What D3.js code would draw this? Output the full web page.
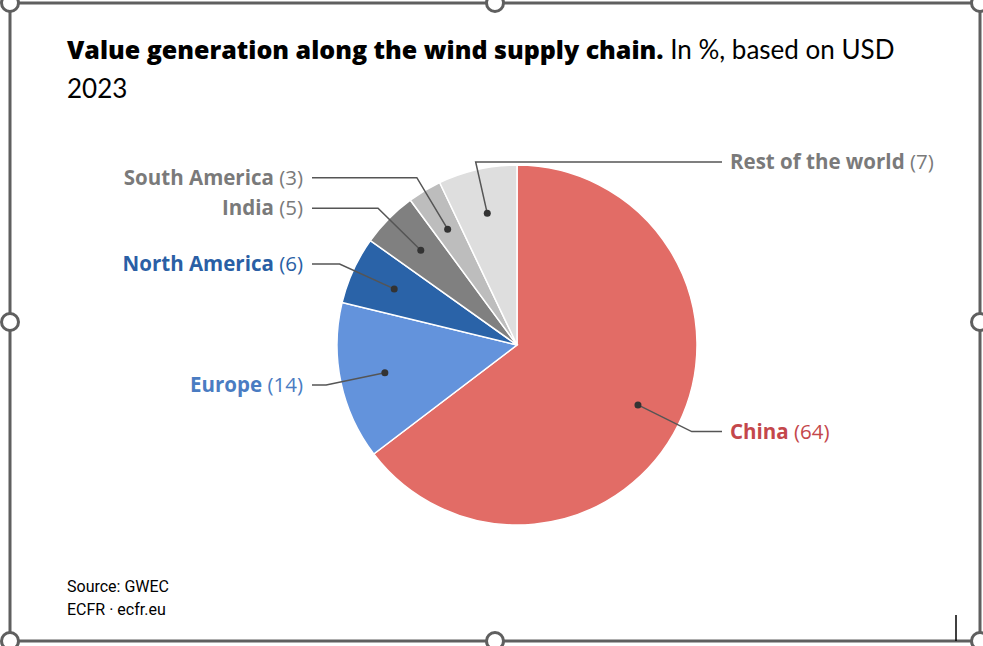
<!DOCTYPE html>
<html>
<head>
<meta charset="utf-8">
<script src="https://cdn.jsdelivr.net/npm/d3@7"></script>
<style>
  body { margin: 0; background: #fff; }
  svg { display: block; }
</style>
</head>
<body>
<div class="chart"></div>
<script>
// data
var regions = ["China", "Europe", "North America", "India", "South America", "Rest of the world"];
var shares = [64, 14, 6, 5, 3, 7];
var sliceColors = ["#e26c66", "#6393dc", "#2a63a8", "#808080", "#bdbdbd", "#dedede"];
var labelColors = ["#c4474b", "#4a7cc2", "#2a5fa5", "#7a7a7a", "#7a7a7a", "#7a7a7a"];

var svgWidth = 983;
var svgHeight = 646;

var cx = 517, cy = 345, radius = 180;

var svg = d3.select(".chart")
  .append("svg")
  .attr("width", svgWidth)
  .attr("height", svgHeight);

// frame with selection handles
svg.append("rect")
  .attr("x", 10).attr("y", 3)
  .attr("width", 970).attr("height", 638)
  .attr("fill", "none")
  .attr("stroke", "#5f5f5f")
  .attr("stroke-width", 3);

// title
var title = svg.append("text")
  .attr("x", 67).attr("y", 59)
  .attr("font-size", "25px")
  .attr("fill", "#000");
title.append("tspan")
  .attr("font-family", "'Open Sans', sans-serif")
  .attr("font-weight", 800)
  .text("Value generation along the wind supply chain.");
title.append("tspan")
  .attr("font-family", "Lato, sans-serif")
  .attr("font-size", "26px")
  .attr("font-weight", 400)
  .text(" In %, based on USD");
svg.append("text")
  .attr("x", 67).attr("y", 98)
  .attr("font-family", "Lato, sans-serif")
  .attr("font-size", "26px")
  .text("2023");

// pie
var data = regions.map(function(r, i) {
  return { name: r, value: shares[i], color: sliceColors[i], labelColor: labelColors[i] };
});

var pie = d3.pie().sort(null).value(function(d) { return d.value; });
var arcs = pie(data);

var arc = d3.arc().innerRadius(0).outerRadius(radius);

var pieGroup = svg.append("g")
  .attr("transform", "translate(" + cx + "," + cy + ")");

pieGroup.selectAll("path")
  .data(arcs)
  .enter()
  .append("path")
  .attr("d", arc)
  .attr("fill", function(d) { return d.data.color; })
  .attr("stroke", "#fff")
  .attr("stroke-width", 1.5);

// labels with leader lines
var dotR = 135, labelR = 195;
arcs.forEach(function(d) {
  var mid = (d.startAngle + d.endAngle) / 2;
  var sx = Math.sin(mid), sy = -Math.cos(mid);
  var dx = dotR * sx, dy = dotR * sy;
  var ly = Math.max(labelR * sy, -radius - 3);
  var t = (ly - dy) / sy;
  var ex = dx + t * sx;
  // slices close to the top are labelled on the right
  var right = sx > -0.3;
  var lineEnd = right ? 205 : -205;
  var textX = right ? 213 : -214;

  pieGroup.append("path")
    .attr("d", "M" + dx + "," + dy + "L" + ex + "," + ly + "L" + lineEnd + "," + ly)
    .attr("fill", "none")
    .attr("stroke", "#555")
    .attr("stroke-width", 1.5);

  pieGroup.append("circle")
    .attr("cx", dx).attr("cy", dy)
    .attr("r", 3.5)
    .attr("fill", "#333");

  var label = pieGroup.append("text")
    .attr("x", textX)
    .attr("y", ly)
    .attr("dy", "0.35em")
    .attr("text-anchor", right ? "start" : "end")
    .attr("font-family", "'Open Sans', sans-serif")
    .attr("font-size", "20.5px")
    .attr("fill", d.data.labelColor);
  label.append("tspan").attr("font-weight", 700).text(d.data.name);
  label.append("tspan").attr("font-weight", 400).text(" (" + d.data.value + ")");
});

// source
svg.append("text")
  .attr("x", 67).attr("y", 592)
  .attr("font-family", "Roboto, sans-serif")
  .attr("font-size", "16px")
  .text("Source: GWEC");
svg.append("text")
  .attr("x", 67).attr("y", 615)
  .attr("font-family", "Roboto, sans-serif")
  .attr("font-size", "16px")
  .text("ECFR \u00b7 ecfr.eu");

// text cursor
svg.append("line")
  .attr("x1", 956).attr("x2", 956)
  .attr("y1", 615).attr("y2", 641)
  .attr("stroke", "#000")
  .attr("stroke-width", 1.5);

// handles
var handleX = [10, 495, 980];
var handleY = [3, 322, 641];
var handles = [];
handleX.forEach(function(x) {
  handleY.forEach(function(y) {
    if (!(x === 495 && y === 322)) handles.push([x, y]);
  });
});
svg.selectAll("circle.handle")
  .data(handles)
  .enter()
  .append("circle")
  .attr("class", "handle")
  .attr("cx", function(d) { return d[0]; })
  .attr("cy", function(d) { return d[1]; })
  .attr("r", 8.5)
  .attr("fill", "#fff")
  .attr("stroke", "#5f5f5f")
  .attr("stroke-width", 3);
</script>
</body>
</html>
